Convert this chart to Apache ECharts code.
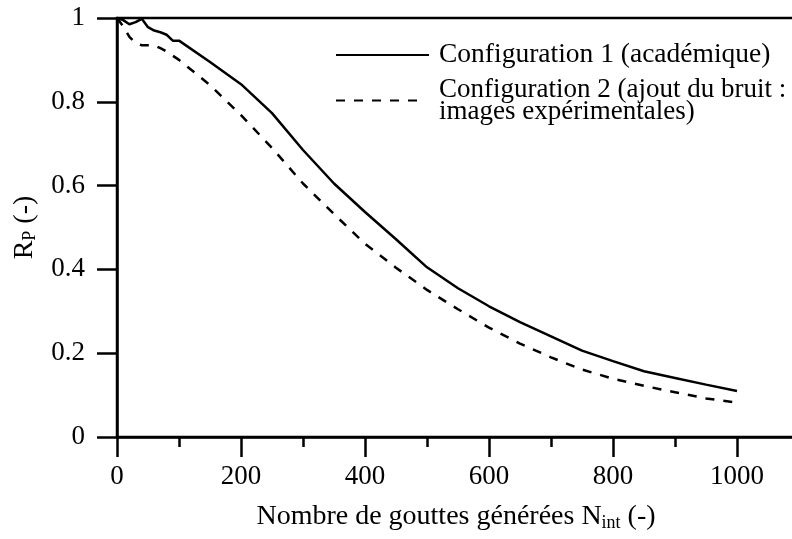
<!DOCTYPE html>
<html>
<head>
<meta charset="utf-8">
<script src="https://cdn.jsdelivr.net/npm/echarts@6/dist/echarts.min.js"></script>
<style>
html,body{margin:0;padding:0;background:#fff;}
#chart{width:792px;height:539px;}
</style>
</head>
<body>
<div id="chart"></div>
<script>
// Number of generated drops (x)
const nValues = [0, 10, 20, 30, 40, 50, 60, 70, 80, 90, 100, 150, 200, 250, 300, 350, 400, 450, 500, 550, 600, 650, 700, 750, 800, 850, 900, 950, 1000];
// Configuration 1 (academic) R_P
const rpConfig1 = [1.0, 0.995, 0.985, 0.99, 0.998, 0.978, 0.97, 0.966, 0.96, 0.946, 0.946, 0.895, 0.842, 0.773, 0.685, 0.605, 0.537, 0.472, 0.405, 0.355, 0.312, 0.274, 0.24, 0.206, 0.181, 0.157, 0.141, 0.125, 0.11];
// Configuration 2 (noise added) R_P
const rpConfig2 = [1.0, 0.98, 0.955, 0.94, 0.935, 0.935, 0.935, 0.928, 0.92, 0.91, 0.9, 0.84, 0.768, 0.69, 0.605, 0.532, 0.461, 0.404, 0.351, 0.305, 0.261, 0.223, 0.19, 0.161, 0.139, 0.122, 0.107, 0.092, 0.082];
const seriesNames = ['Configuration 1 (académique)', 'Configuration 2 (ajout du bruit :\nimages expérimentales)'];
const xTickValues = [0, 200, 400, 600, 800, 1000];
const yTickValues = [0, 0.2, 0.4, 0.6, 0.8, 1];

const FONT = '"Liberation Serif", "Times New Roman", serif';
const BLACK = '#000';

const chart = echarts.init(document.getElementById('chart'), null, {renderer: 'canvas'});

const pairs = (ys) => nValues.map((n, i) => [n, ys[i]]);

const option = {
  backgroundColor: '#fff',
  animation: false,
  grid: {
    left: 117, top: 18, width: 744, height: 419,
    containLabel: false, outerBoundsMode: 'none',
    show: true, borderColor: BLACK, borderWidth: 2.5, backgroundColor: 'transparent'
  },
  legend: [
    {
      data: [seriesNames[0]],
      left: 335, top: 41, orient: 'vertical', padding: 0,
      itemWidth: 93, itemHeight: 10,
      itemStyle: {opacity: 0},
      textStyle: {fontFamily: FONT, fontSize: 27.5, color: BLACK, lineHeight: 28, padding: [0, 0, 0, 5]}
    },
    {
      data: [seriesNames[1]],
      left: 335, top: 67, orient: 'vertical', padding: 0,
      itemWidth: 85, itemHeight: 10,
      itemStyle: {opacity: 0},
      textStyle: {fontFamily: FONT, fontSize: 27, color: BLACK, lineHeight: 22, padding: [23, 0, 0, 13]}
    }
  ],
  xAxis: {
    type: 'value', min: 0, max: 1200, interval: 200,
    position: 'bottom',
    name: 'Nombre de gouttes générées N{sub|int} (-)',
    nameLocation: 'middle', nameGap: 65,
    nameTextStyle: {
      fontFamily: FONT, fontSize: 28, color: BLACK, padding: [0, 66, 0, 0],
      rich: {sub: {fontFamily: FONT, fontSize: 18, color: BLACK, verticalAlign: 'bottom', padding: [12, 0, 0, 0]}}
    },
    axisLine: {show: true, onZero: false, lineStyle: {color: BLACK, width: 2.5}},
    axisTick: {show: true, inside: false, length: 20, lineStyle: {color: BLACK, width: 2.5}},
    minorTick: {show: true, splitNumber: 2, length: 10, lineStyle: {color: BLACK, width: 2.5}},
    axisLabel: {
      show: true, margin: 26, showMaxLabel: false,
      fontFamily: FONT, fontSize: 27, color: BLACK,
      formatter: (v) => (xTickValues.indexOf(v) >= 0 ? String(v) : '')
    },
    splitLine: {show: false},
    minorSplitLine: {show: false}
  },
  yAxis: {
    type: 'value', min: 0, max: 1, interval: 0.2,
    name: 'R{sub|P} (-)',
    nameLocation: 'middle', nameGap: 78, nameRotate: 90,
    nameTextStyle: {
      fontFamily: FONT, fontSize: 28, color: BLACK,
      rich: {sub: {fontFamily: FONT, fontSize: 18, color: BLACK, verticalAlign: 'bottom', padding: [10, 0, 0, 0]}}
    },
    axisLine: {show: true, onZero: false, lineStyle: {color: BLACK, width: 2.5}},
    axisTick: {show: true, inside: false, length: 20, lineStyle: {color: BLACK, width: 2.5}},
    axisLabel: {
      margin: 32, fontFamily: FONT, fontSize: 27, color: BLACK,
      formatter: (v) => {
        const r = Math.round(v * 10) / 10;
        return yTickValues.indexOf(r) >= 0 ? String(r) : '';
      }
    },
    splitLine: {show: false}
  },
  series: [
    {
      name: seriesNames[0], type: 'line',
      data: pairs(rpConfig1), symbol: 'none', showSymbol: false,
      lineStyle: {color: BLACK, width: 2.5, type: 'solid'},
      itemStyle: {color: BLACK}
    },
    {
      name: seriesNames[1], type: 'line',
      data: pairs(rpConfig2), symbol: 'none', showSymbol: false,
      lineStyle: {color: BLACK, width: 2.5, type: [9, 9]},
      itemStyle: {color: BLACK}
    }
  ]
};
chart.setOption(option);
</script>
</body>
</html>
